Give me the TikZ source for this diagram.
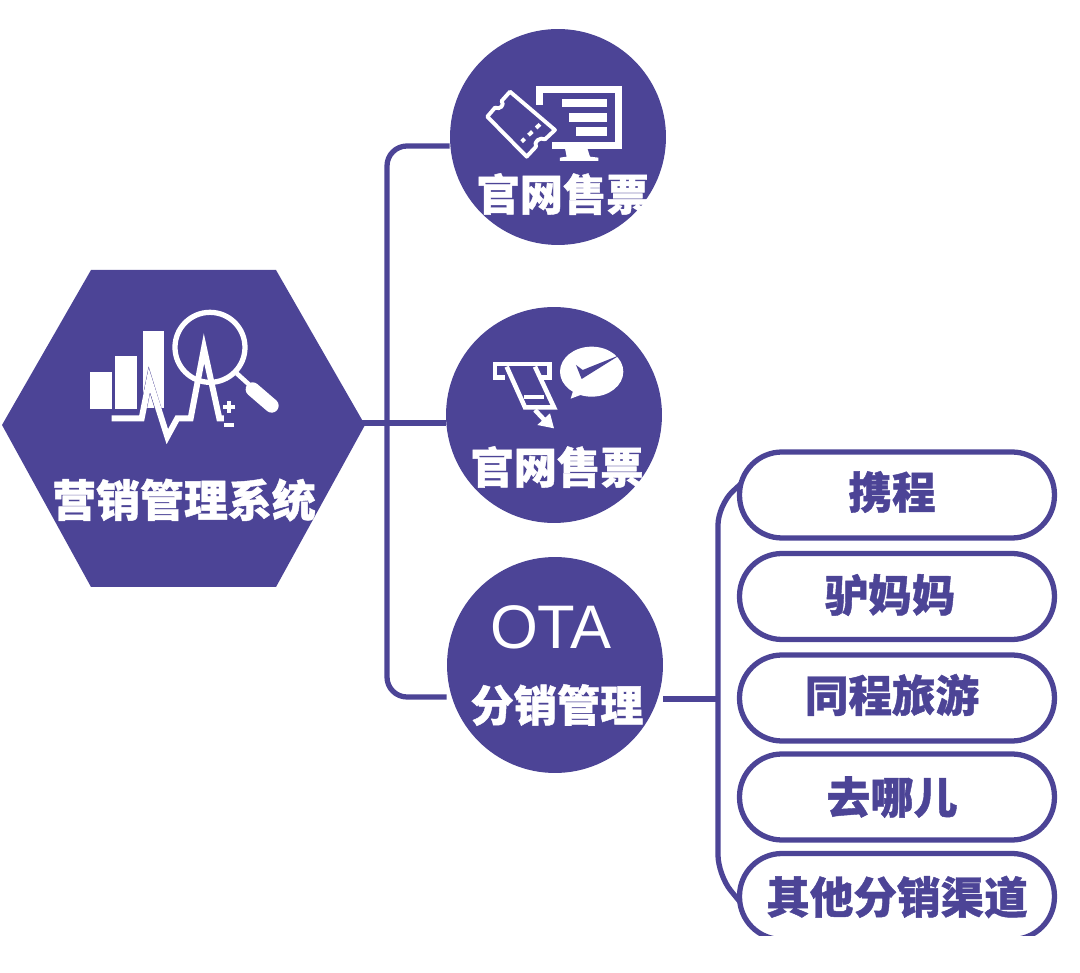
\documentclass[tikz,border=0pt]{standalone}
\usepackage{fontspec}
\newfontfamily\cjk[BoldFeatures={FakeBold=1}]{Noto Sans CJK SC}
\setmainfont{Liberation Sans}
\definecolor{violet}{HTML}{4C4496}
\begin{document}
\begin{tikzpicture}[
    x=0.02cm, y=-0.02cm,
    ball/.style={circle, fill=violet, minimum size=4.32cm, inner sep=0pt},
    pill/.style={draw=violet, line width=3pt, fill=white, rounded corners=0.85cm,
                 minimum width=6.3cm, minimum height=1.72cm, inner sep=0pt},
    pilltext/.style={font=\cjk\bfseries\fontsize{24.8}{26}\selectfont, text=violet},
    balltext/.style={font=\cjk\bfseries\fontsize{24.6}{26}\selectfont, text=white},
    link/.style={draw=violet, line width=3pt, rounded corners=0.4cm},
    icon/.style={x=0.00667cm, y=-0.00667cm, white},
  ]
    \useasboundingbox (0,0) rectangle (1080,973);

    % connectors
    \coordinate (sysr) at (360,423);
    \coordinate (up) at (387,423);
    \coordinate (brk) at (718,699);

    % hexagon
    \fill[violet] (2,425) -- (91,270) -- (276,270) -- (365,425) -- (276,587) -- (91,587) -- cycle;
    \node[font=\cjk\bfseries\fontsize{25}{26}\selectfont, text=white] (systxt) at (184,500) {营销管理系统};

    % circles
    \node[ball] (web)  at (558,137) {};
    \node[ball] (pay)  at (554,415) {};
    \node[ball] (ota)  at (555,665) {};
    \draw[link] (sysr) -- (pay.west |- sysr);
    \draw[link] (web.west |- 0,146) -- (up |- 0,146) -- (up |- 0,697) -- (ota.west |- 0,697);
    \node[balltext] (webtxt) at (563,194) {官网售票};
    \node[balltext] (paytxt) at (557,467) {官网售票};
    \node[font=\fontsize{35}{37}\selectfont, text=white] (otatxt) at (551,627) {OTA};
    \node[balltext] (distxt) at (557,705) {分销管理};

    % channels
    \draw[link] (ota.east |- brk) -- (brk);
    \draw[link] (745,480) -- (718,505) -- (718,875) -- (745,908);
    \node[pill] (ctrip) at (897,495) {};
    \node[pill] (lvmm)  at (897,596.5) {};
    \node[pill] (ly)    at (897,698) {};
    \node[pill] (qunar) at (897,797) {};
    \node[pill] (other) at (897,896.5) {};
    \fill[white] (755,936) rectangle (1045,973);
    \node[pilltext] at (892,492) {携程};
    \node[pilltext] at (890,595) {驴妈妈};
    \node[pilltext] at (892,695) {同程旅游};
    \node[pilltext] at (892,797) {去哪儿};
    \node[pilltext] at (897,897) {其他分销渠道};

    % chart icon
    \begin{scope}[shift={(60,290)}, icon]
      \fill (90,247) rectangle (155,358);
      \fill (165,198) rectangle (231,358);
      \fill (250,124) rectangle (313,355);
      \draw[violet, line width=3.8pt] (245,385) -- (268,270) -- (322,445);
      \draw[white, line width=3.4pt, miter limit=10] (155,385) -- (245,385) -- (268,270) -- (322,440)
        -- (352,385) -- (392,385) -- (432,175) -- (478,385) -- (492,385);
      \draw[white, line width=3pt] (450,172) circle (105);
      \draw[white, line width=2.6pt] (530,250) -- (572,288);
      \draw[white, line width=8pt, line cap=round] (578,298) -- (635,347);
      \fill (490,344) rectangle (526,356);
      \fill (502,332) rectangle (514,368);
      \fill (492,400) rectangle (522,412);
    \end{scope}

    % ticket and screen icon
    \begin{scope}[shift={(450,30)}, icon]
      \draw[white, line width=3.8pt] (269,225) -- (269,178) -- (506,178) -- (506,346) -- (305,346);
      \fill (345,355) -- (412,355) -- (420,380) -- (445,383) -- (445,393) -- (330,393) -- (330,383) -- (350,380) -- cycle;
      \fill (335,207) rectangle (470,232);
      \fill (357,250) rectangle (470,276);
      \fill (378,292) rectangle (470,317);
      \draw[white, line width=2.2pt, line join=round, fill=violet] (180,185) -- (155,213) .. controls (165,225) and (150,240) .. (135,233)
        -- (112,260) -- (230,380) -- (258,350) .. controls (250,335) and (270,320) .. (285,328) -- (315,300) -- cycle;
      \draw[white, line width=2.2pt, dashed] (270,283) -- (215,335);
    \end{scope}

    % payment icon
    \begin{scope}[shift={(450,310)}, icon]
      \draw[white, line width=2.6pt] (165,203) -- (135,203) -- (135,162) -- (298,162) -- (298,203) -- (270,203);
      \draw[white, line width=2.6pt] (170,170) -- (225,292) -- (312,292) -- (255,170);
      \fill (222,255) rectangle (283,266);
      \draw[white, line width=2.6pt] (255,300) -- (285,332);
      \fill (262,345) -- (312,355) -- (300,310) -- cycle;
      \fill (425,185) ellipse (95 and 75);
      \fill (375,225) -- (362,266) -- (405,250) -- cycle;
      \fill[violet] (378,165) -- (398,180) -- (510,135) -- (395,207) -- cycle;
    \end{scope}
  \end{tikzpicture}
\end{document}
